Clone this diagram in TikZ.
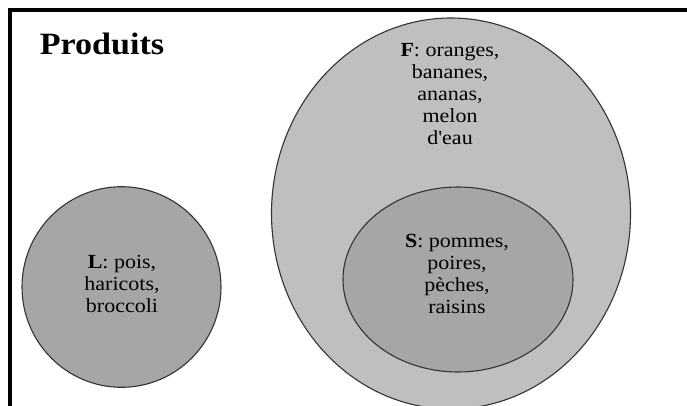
\documentclass[tikz,border=0pt]{standalone}
\usepackage{fontspec}
\setmainfont{Liberation Serif}[FakeStretch=1.1,Ligatures=TeXOff]
\usetikzlibrary{shapes.geometric}
\begin{document}
\begin{tikzpicture}[x=1pt,y=-1pt,
  setshape/.style={ellipse,draw=black!80,line width=1.1pt,inner sep=0pt},
  outerset/.style={setshape,fill=black!25},
  innerset/.style={setshape,fill=black!35},
  settext/.style={align=center,inner sep=0pt,anchor=north,font=\fontsize{20}{22}\selectfont},
  frameline/.style={line width=4.5pt}]
\useasboundingbox (0,0) rectangle (687,406);
\clip (0,0) rectangle (687,406);
\fill[white] (0,0) rectangle (687,406);
\coordinate (fa) at (10,420);
\coordinate (fb) at (10,10);
\coordinate (fc) at (700,10);
\draw[frameline] (fa) -- (fb) -- (fc);
\node[font=\fontsize{31}{34}\selectfont\bfseries,anchor=base,inner sep=0pt] (title) at (102,55) {Produits};
\node[outerset,minimum width=359pt,minimum height=391pt] (F) at (451,213.5) {};
\node[innerset,minimum width=230pt,minimum height=185pt] (S) at (458,279.5) {};
\node[innerset,minimum width=199pt,minimum height=200.6pt] (L) at (121.5,287) {};
\node[settext] (Ftext) at (450,43.5) {\textbf{F}: oranges,\\bananes,\\ananas,\\melon\\d'eau};
\node[settext] (Stext) at (457,234.5) {\textbf{S}: pommes,\\poires,\\pèches,\\raisins};
\node[settext] (Ltext) at (122,255.5) {\textbf{L}: pois,\\haricots,\\broccoli};
\end{tikzpicture}
\end{document}
